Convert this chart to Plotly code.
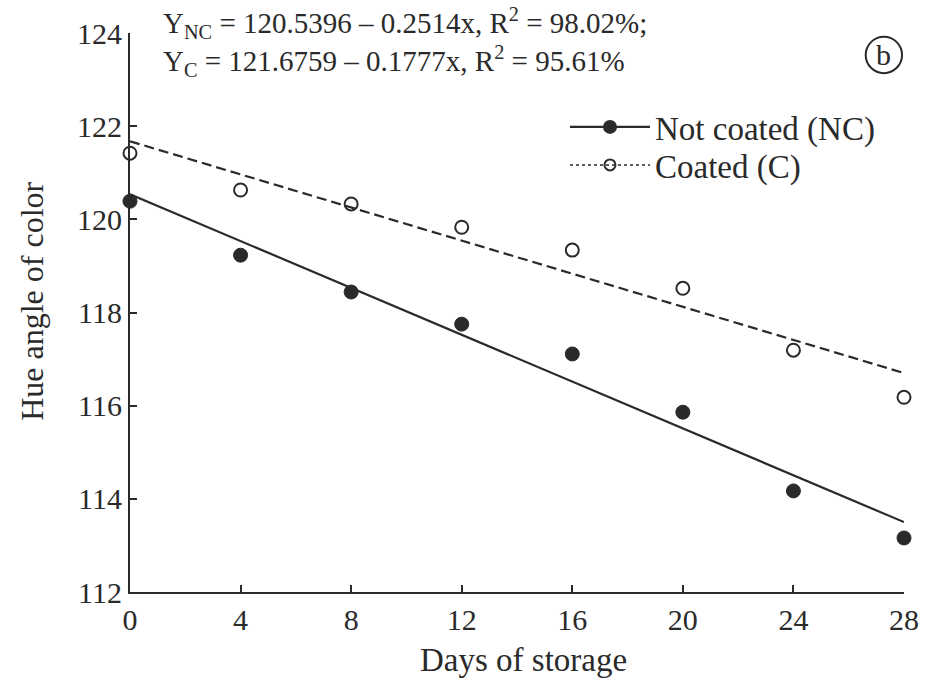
import plotly.graph_objects as go

days = [0, 4, 8, 12, 16, 20, 24, 28]
not_coated = [120.39, 119.23, 118.44, 117.75, 117.11, 115.86, 114.17, 113.16]
coated = [121.42, 120.63, 120.33, 119.83, 119.34, 118.52, 117.19, 116.18]
nc_fit = (120.5396, -0.2514)
c_fit = (121.6759, -0.1777)
x_ticks = [0, 4, 8, 12, 16, 20, 24, 28]
y_ticks = [112, 114, 116, 118, 120, 122, 124]

FONT = "Liberation Serif"
INK = "#2a2a2a"

fig = go.Figure()

fit_x = [days[0], days[-1]]
fig.add_trace(go.Scatter(
    x=fit_x, y=[nc_fit[0] + nc_fit[1] * v for v in fit_x], mode="lines",
    line=dict(color=INK, width=2.2), showlegend=False, hoverinfo="skip"))
fig.add_trace(go.Scatter(
    x=fit_x, y=[c_fit[0] + c_fit[1] * v for v in fit_x], mode="lines",
    line=dict(color=INK, width=2.2, dash="10px,5px"), showlegend=False, hoverinfo="skip"))

fig.add_trace(go.Scatter(
    x=days, y=not_coated, mode="markers", showlegend=False,
    marker=dict(symbol="circle", size=14, color=INK, line=dict(color=INK, width=1)),
    cliponaxis=False))
fig.add_trace(go.Scatter(
    x=days, y=coated, mode="markers", showlegend=False,
    marker=dict(symbol="circle-open", size=13, color=INK, line=dict(color=INK, width=2)),
    cliponaxis=False))

# legend entries with line samples
fig.add_trace(go.Scatter(
    x=[None], y=[None], mode="lines+markers", name="Not coated (NC)", legend="legend",
    line=dict(color=INK, width=2.2),
    marker=dict(symbol="circle", size=14, color=INK)))
fig.add_trace(go.Scatter(
    x=[None], y=[None], mode="lines+markers", name="Coated (C)", legend="legend2",
    line=dict(color=INK, width=1.5, dash="dot"),
    marker=dict(symbol="circle-open", size=11, color=INK, line=dict(width=2))))

axis_common = dict(
    showline=True, linecolor=INK, linewidth=2, ticks="inside", ticklen=7,
    tickwidth=2, tickcolor=INK, showgrid=False, zeroline=False,
    tickfont=dict(family=FONT, size=30, color=INK),
)
fig.update_xaxes(range=[0, 28], tickvals=x_ticks, **axis_common)
fig.update_yaxes(range=[112, 124], tickvals=y_ticks, **axis_common)

legend_common = dict(xanchor="left", yanchor="top",
                     font=dict(family=FONT, size=33, color=INK),
                     bgcolor="rgba(0,0,0,0)", itemwidth=80)

equation_text = ("Y<sub>NC</sub> = 120.5396 – 0.2514x, R<sup>2</sup> = 98.02%;<br>"
                 "Y<sub>C</sub> = 121.6759 – 0.1777x, R<sup>2</sup> = 95.61%")

fig.update_layout(
    width=931, height=694,
    margin=dict(l=130, r=25, t=33, b=102),
    plot_bgcolor="white", paper_bgcolor="white",
    font=dict(family=FONT, color=INK),
    legend=dict(x=0.562, y=0.882, **legend_common),
    legend2=dict(x=0.562, y=0.814, **legend_common),
    annotations=[
        dict(text="Days of storage", xref="paper", yref="paper", x=0.509, y=-0.122,
             xanchor="center", yanchor="middle", showarrow=False,
             font=dict(family=FONT, size=33, color=INK)),
        dict(text="Hue angle of color", xref="paper", yref="paper", x=-0.126, y=0.52,
             xanchor="center", yanchor="middle", textangle=-90, showarrow=False,
             font=dict(family=FONT, size=32, color=INK)),
        dict(text=equation_text, align="left",
             xref="paper", yref="paper", x=0.040, y=1.057, xanchor="left", yanchor="top",
             showarrow=False, font=dict(family=FONT, size=29, color=INK)),
        dict(text="b", xref="paper", yref="paper", x=0.974, y=0.962, xanchor="center",
             yanchor="middle", showarrow=False, font=dict(family=FONT, size=30, color=INK)),
    ],
    shapes=[
        dict(type="circle", xref="paper", yref="paper",
             x0=0.974 - 0.0235, x1=0.974 + 0.0235, y0=0.9607 - 0.0325, y1=0.9607 + 0.0325,
             line=dict(color=INK, width=2)),
    ],
)

fig.write_html("out.html")
